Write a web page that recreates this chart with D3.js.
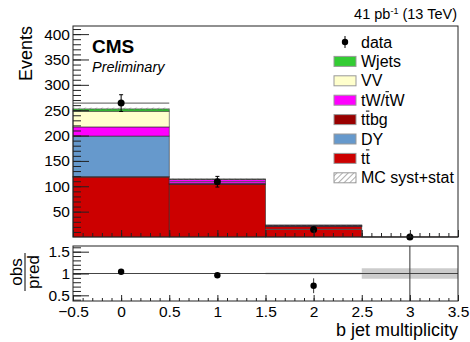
<!DOCTYPE html>
<meta charset="utf-8">
<style>
  body { margin: 0; background: #fff; }
  svg text { font-family: "Liberation Sans", Arial, sans-serif; fill: #000; }
</style>
<body>
<div id="chart"></div>

<script src="https://d3js.org/d3.v7.min.js"></script>
<script>
// bin centres (b jet multiplicity)
var bins = [0, 1, 2, 3];

// stacked MC components, bottom to top
var tt    = [118, 104, 21, 0.3];
var ttbg  = [1, 0.5, 0.3, 0];
var dy    = [80, 1, 0.3, 0];
var tw    = [18, 8, 1.5, 0];
var vv    = [31, 0.5, 0.2, 0];
var wjets = [4.5, 0.3, 0.1, 0];
var mcErr = [2.5, 1, 0.5, 0.05];

// data
var data   = [264, 109, 15, 0];
var errUp  = [16.5, 10.5, 4, 1.8];
var errLow = [16.5, 10.5, 4, 0];

// ratio pad
var ratio    = [1.04, 0.96, 0.72, 0];
var ratioErr = [0.06, 0.06, 0.17, 6];
var bandErr  = [0.01, 0.01, 0.02, 0.12];

// ticks
var yTicks = [50, 100, 150, 200, 250, 300, 350, 400];
var xTicks = [-0.5, 0, 0.5, 1, 1.5, 2, 2.5, 3, 3.5];
var rTicks = [0.5, 1, 1.5];

var names  = ["tt", "ttbg", "DY", "tW", "VV", "Wjets"];
var colors = ["#cc0000", "#990000", "#6699cc", "#ff00ff", "#ffffcc", "#33cc33"];
var series = [tt, ttbg, dy, tw, vv, wjets];

// legend text, and index of the letter that carries a bar (-1: none)
var legendLabels = ["data", "Wjets", "VV", "tW/tW", "ttbg", "DY", "tt", "MC syst+stat"];
var legendBar    = [-1, -1, -1, 3, 1, -1, 1, -1];
var legendFills  = [null, "#33cc33", "#ffffcc", "#ff00ff", "#990000", "#6699cc", "#cc0000", "url(#hatch)"];

var W = 470, H = 342;
var left = 73, right = 458;
var mainTop = 26, mainBot = 237;
var ratTop = 246, ratBot = 301;

var svg = d3.select("#chart").append("svg")
    .attr("width", W)
    .attr("height", H);

var defs = svg.append("defs");
var pat = defs.append("pattern")
    .attr("id", "hatch")
    .attr("patternUnits", "userSpaceOnUse")
    .attr("width", 4).attr("height", 4)
    .attr("patternTransform", "rotate(45)");
pat.append("line")
    .attr("x1", 0).attr("y1", 0).attr("x2", 0).attr("y2", 4)
    .style("stroke", "#777").style("stroke-width", 1.2);

defs.append("clipPath").attr("id", "clipRatio")
  .append("rect")
    .attr("x", left).attr("y", ratTop)
    .attr("width", right - left).attr("height", ratBot - ratTop);

// scales
var x = d3.scaleLinear().domain([-0.5, 3.5]).range([left, right]);
var y = d3.scaleLinear().domain([0, 416]).range([mainBot, mainTop]);
var yr = d3.scaleLinear().domain([0.37, 1.63]).range([ratBot, ratTop]);

// stack the MC
var table = bins.map(function(b, i) {
  var row = {bin: b};
  names.forEach(function(n, j) { row[n] = series[j][i]; });
  return row;
});
var stacked = d3.stack().keys(names)(table);

var main = svg.append("g");

stacked.forEach(function(layer, j) {
  main.selectAll(".bar" + j)
      .data(layer)
    .enter().append("rect")
      .attr("x", function(d) { return x(d.data.bin - 0.5); })
      .attr("width", function(d) { return x(d.data.bin + 0.5) - x(d.data.bin - 0.5); })
      .attr("y", function(d) { return y(d[1]); })
      .attr("height", function(d) { return Math.max(0, y(d[0]) - y(d[1])); })
      .style("fill", colors[j])
      .style("stroke", "rgba(40,40,40,0.7)")
      .style("stroke-width", 0.8);
});

// MC uncertainty band
var totals = stacked[stacked.length - 1];
main.selectAll(".band")
    .data(totals)
  .enter().append("rect")
    .attr("x", function(d) { return x(d.data.bin - 0.5); })
    .attr("width", function(d) { return x(d.data.bin + 0.5) - x(d.data.bin - 0.5); })
    .attr("y", function(d, i) { return y(d[1] + mcErr[i]); })
    .attr("height", function(d, i) { return y(d[1] - mcErr[i]) - y(d[1] + mcErr[i]); })
    .style("fill", "url(#hatch)");

// data: horizontal bin-width bars
main.selectAll(".xerr")
    .data(bins)
  .enter().append("line")
    .attr("x1", function(d) { return x(d - 0.5); })
    .attr("x2", function(d) { return x(d + 0.5); })
    .attr("y1", function(d, i) { return y(data[i]); })
    .attr("y2", function(d, i) { return y(data[i]); })
    .style("stroke", "#555").style("stroke-width", 1);

// data: vertical error bars with caps
main.selectAll(".yerr")
    .data(bins)
  .enter().append("path")
    .attr("d", function(d, i) {
      var cx = x(d), t = y(data[i] + errUp[i]), b = y(data[i] - errLow[i]);
      return "M" + cx + "," + t + "V" + b +
             "M" + (cx - 2) + "," + t + "H" + (cx + 2) +
             (errLow[i] > 0 ? "M" + (cx - 2) + "," + b + "H" + (cx + 2) : "");
    })
    .style("stroke", "#000").style("stroke-width", 1).style("fill", "none");

main.selectAll(".dot")
    .data(bins)
  .enter().append("circle")
    .attr("cx", function(d) { return x(d); })
    .attr("cy", function(d, i) { return y(data[i]); })
    .attr("r", 3.5)
    .style("fill", "#000");

// main axes (ROOT-style inward ticks)
svg.append("g")
    .attr("transform", "translate(" + left + ",0)")
    .call(d3.axisLeft(y).tickValues(d3.range(10, 416, 10)).tickSizeInner(-8).tickSizeOuter(0).tickFormat(""))
    .call(function(g) { g.select(".domain").remove(); });
svg.append("g")
    .attr("transform", "translate(" + left + ",0)")
    .style("font-size", "15.5px")
    .call(d3.axisLeft(y).tickValues(yTicks).tickSizeInner(-16).tickSizeOuter(0).tickPadding(3))
    .call(function(g) { g.select(".domain").remove(); });

svg.append("g")
    .attr("transform", "translate(0," + mainBot + ")")
    .call(d3.axisBottom(x).tickValues(d3.range(-0.4, 3.5, 0.1)).tickSizeInner(-4).tickSizeOuter(0).tickFormat(""))
    .call(function(g) { g.select(".domain").remove(); });
svg.append("g")
    .attr("transform", "translate(0," + mainBot + ")")
    .call(d3.axisBottom(x).tickValues(xTicks).tickSizeInner(-7).tickSizeOuter(0).tickFormat(""))
    .call(function(g) { g.select(".domain").remove(); });

svg.append("rect")
    .attr("x", left).attr("y", mainTop)
    .attr("width", right - left).attr("height", mainBot - mainTop)
    .style("fill", "none").style("stroke", "#222").style("stroke-width", 1);

// ratio pad
var rat = svg.append("g").attr("clip-path", "url(#clipRatio)");

rat.selectAll(".rband")
    .data(bins)
  .enter().append("rect")
    .attr("x", function(d) { return x(d - 0.5); })
    .attr("width", function(d) { return x(d + 0.5) - x(d - 0.5); })
    .attr("y", function(d, i) { return yr(1 + bandErr[i]); })
    .attr("height", function(d, i) { return yr(1 - bandErr[i]) - yr(1 + bandErr[i]); })
    .style("fill", "#cccccc");

rat.append("line")
    .attr("x1", left).attr("x2", right)
    .attr("y1", yr(1)).attr("y2", yr(1))
    .style("stroke", "#444").style("stroke-width", 1);

rat.selectAll(".rerr")
    .data(bins)
  .enter().append("line")
    .attr("x1", function(d) { return x(d); })
    .attr("x2", function(d) { return x(d); })
    .attr("y1", function(d, i) { return yr(ratio[i] + ratioErr[i]); })
    .attr("y2", function(d, i) { return yr(ratio[i] - ratioErr[i]); })
    .style("stroke", "#333").style("stroke-width", 1);

rat.selectAll(".rdot")
    .data(bins)
  .enter().append("circle")
    .attr("cx", function(d) { return x(d); })
    .attr("cy", function(d, i) { return yr(ratio[i]); })
    .attr("r", 3.2)
    .style("fill", "#000");

svg.append("g")
    .attr("transform", "translate(" + left + ",0)")
    .call(d3.axisLeft(yr).tickValues(d3.range(0.4, 1.63, 0.1)).tickSizeInner(-8).tickSizeOuter(0).tickFormat(""))
    .call(function(g) { g.select(".domain").remove(); });
svg.append("g")
    .attr("transform", "translate(" + left + ",0)")
    .style("font-size", "15.5px")
    .call(d3.axisLeft(yr).tickValues(rTicks).tickSizeInner(-16).tickSizeOuter(0).tickPadding(3).tickFormat(d3.format("~g")))
    .call(function(g) { g.select(".domain").remove(); });

svg.append("g")
    .attr("transform", "translate(0," + ratBot + ")")
    .call(d3.axisBottom(x).tickValues(d3.range(-0.4, 3.5, 0.1)).tickSizeInner(-3).tickSizeOuter(0).tickFormat(""))
    .call(function(g) { g.select(".domain").remove(); });
svg.append("g")
    .attr("transform", "translate(0," + ratBot + ")")
    .style("font-size", "15.5px")
    .call(d3.axisBottom(x).tickValues(xTicks).tickSizeInner(-6).tickSizeOuter(0).tickPadding(5).tickFormat(d3.format("~g")))
    .call(function(g) { g.select(".domain").remove(); });

svg.append("rect")
    .attr("x", left).attr("y", ratTop)
    .attr("width", right - left).attr("height", ratBot - ratTop)
    .style("fill", "none").style("stroke", "#222").style("stroke-width", 1);

svg.selectAll(".tick line").style("stroke", "#222");

// axis titles
svg.append("text")
    .attr("transform", "translate(32," + mainTop + ") rotate(-90)")
    .style("text-anchor", "end")
    .style("font-size", "18px")
    .text("Events");

svg.append("text")
    .attr("x", right).attr("y", 336)
    .style("text-anchor", "end")
    .style("font-size", "18px")
    .text("b jet multiplicity");

svg.append("text")
    .attr("transform", "translate(22,272) rotate(-90)")
    .style("text-anchor", "middle")
    .style("font-size", "17px")
    .text("obs");
svg.append("text")
    .attr("transform", "translate(39,272) rotate(-90)")
    .style("text-anchor", "middle")
    .style("font-size", "17px")
    .text("pred");
svg.append("line")
    .attr("x1", 25).attr("x2", 25)
    .attr("y1", 253).attr("y2", 291)
    .style("stroke", "#000").style("stroke-width", 1);

// labels
svg.append("text")
    .attr("x", 92).attr("y", 53)
    .style("font-size", "19px").style("font-weight", "bold")
    .text("CMS");
svg.append("text")
    .attr("x", 92).attr("y", 72)
    .style("font-size", "14.5px").style("font-style", "italic")
    .text("Preliminary");

var lumi = svg.append("text")
    .attr("x", 457).attr("y", 19)
    .style("text-anchor", "end")
    .style("font-size", "14.5px");
lumi.append("tspan").text("41 pb");
lumi.append("tspan").attr("dy", -5).style("font-size", "9px").text("-1");
lumi.append("tspan").attr("dy", 5).text(" (13 TeV)");

// legend
var leg = svg.append("g");
var rowY = function(i) { return 42 + i * 19.4; };

legendLabels.forEach(function(lab, i) {
  var cy = rowY(i);
  if (i === 0) {
    leg.append("line")
        .attr("x1", 345).attr("x2", 345)
        .attr("y1", cy - 6).attr("y2", cy + 6)
        .style("stroke", "#000");
    leg.append("circle")
        .attr("cx", 345).attr("cy", cy).attr("r", 3.2)
        .style("fill", "#000");
  } else {
    leg.append("rect")
        .attr("x", 334).attr("y", cy - 5)
        .attr("width", 22).attr("height", 10)
        .style("fill", legendFills[i])
        .style("stroke", "#999").style("stroke-width", 1);
  }
  var t = leg.append("text")
      .attr("x", 361).attr("y", cy + 5.5)
      .style("font-size", "16px")
      .text(lab);
  // bar over a single letter (anti-top)
  var k = legendBar[i];
  if (k >= 0) {
    var node = t.node();
    var x0 = node.getStartPositionOfChar(k).x;
    var x1 = node.getEndPositionOfChar(k).x;
    leg.append("line")
        .attr("x1", x0 + 0.5).attr("x2", x1 - 0.5)
        .attr("y1", cy - 8.5).attr("y2", cy - 8.5)
        .style("stroke", "#000").style("stroke-width", 1);
  }
});
</script>
</body>
